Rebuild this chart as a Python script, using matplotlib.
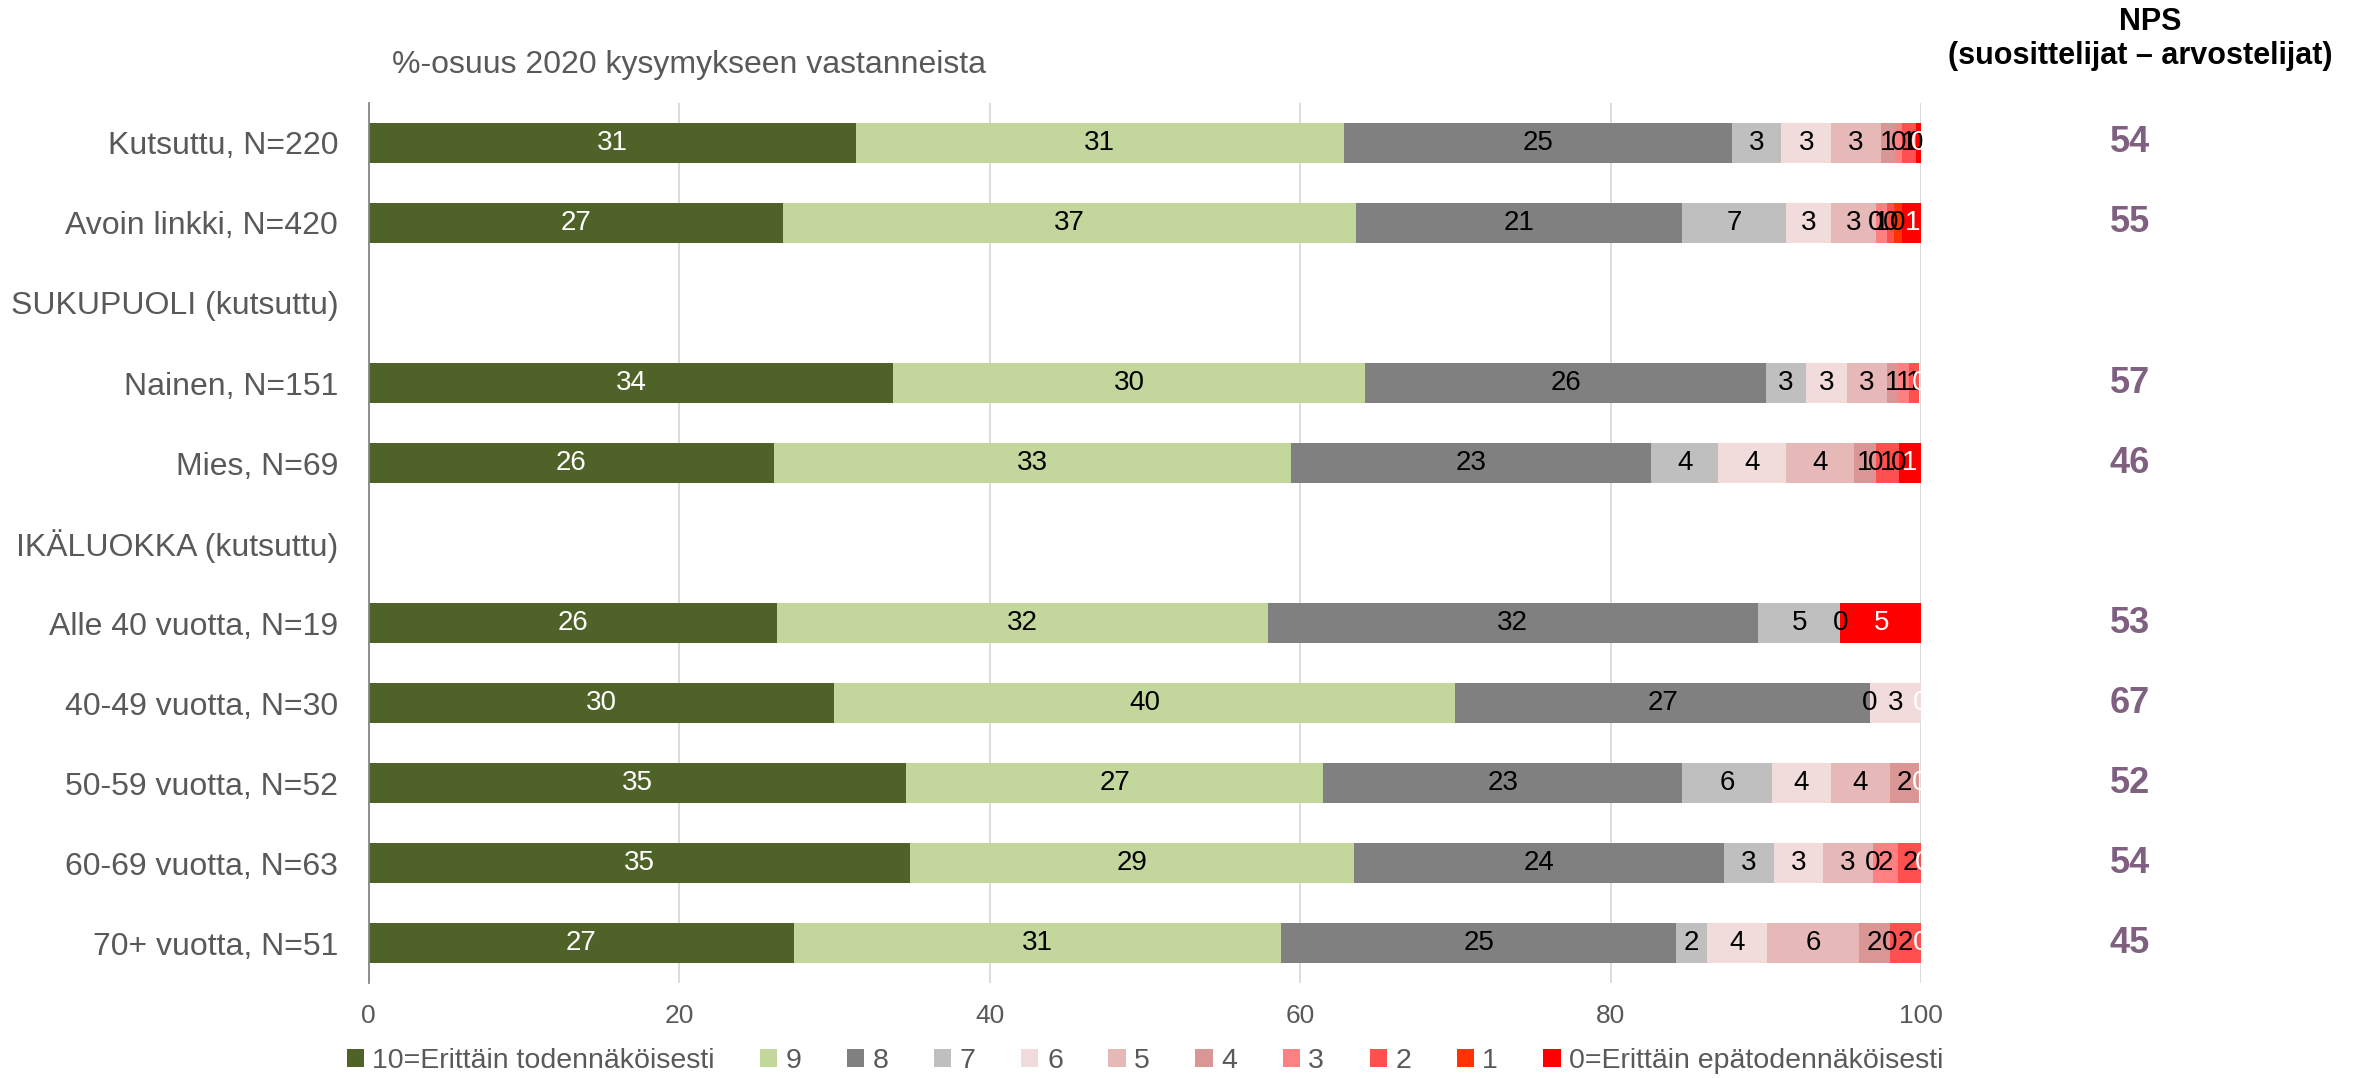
import numpy as np
import matplotlib

matplotlib.use("Agg")
import matplotlib.pyplot as plt
from matplotlib.patches import Patch

plt.rcParams["font.family"] = ["Liberation Sans", "DejaVu Sans"]

nan = np.nan

# ---- data (percent of respondents) -----------------------------------------
rows = ["Kutsuttu, N=220", "Avoin linkki, N=420", "SUKUPUOLI (kutsuttu)",
        "Nainen, N=151", "Mies, N=69", "IKÄLUOKKA (kutsuttu)",
        "Alle 40 vuotta, N=19", "40-49 vuotta, N=30", "50-59 vuotta, N=52",
        "60-69 vuotta, N=63", "70+ vuotta, N=51"]

score_names = ["10=Erittäin todennäköisesti", "9", "8", "7", "6", "5", "4",
               "3", "2", "1", "0=Erittäin epätodennäköisesti"]

s10 = [31.4, 26.7, nan, 33.8, 26.1, nan, 26.3, 30.0, 34.6, 34.9, 27.4]
s9 = [31.4, 36.9, nan, 30.4, 33.3, nan, 31.6, 40.0, 26.9, 28.6, 31.4]
s8 = [25.0, 21.0, nan, 25.8, 23.2, nan, 31.6, 26.7, 23.1, 23.8, 25.4]
s7 = [3.2, 6.7, nan, 2.6, 4.35, nan, 5.3, 0.0, 5.8, 3.2, 2.0]
s6 = [3.2, 2.9, nan, 2.6, 4.35, nan, 0.0, 3.3, 3.8, 3.2, 3.9]
s5 = [3.2, 2.9, nan, 2.6, 4.35, nan, nan, nan, 3.8, 3.2, 5.9]
s4 = [0.9, 0.0, nan, 0.7, 1.45, nan, nan, nan, 1.9, 0.0, 2.0]
s3 = [0.45, 0.7, nan, 0.7, 0.0, nan, nan, nan, nan, 1.6, 0.0]
s2 = [0.9, 0.48, nan, 0.7, 1.45, nan, nan, nan, nan, 1.6, 2.0]
s1 = [0.0, 0.48, nan, nan, 0.0, nan, nan, nan, nan, nan, nan]
s0 = [0.45, 1.4, nan, 0.0, 1.45, nan, 5.3, 0.0, 0.0, 0.0, 0.0]

nps = [54, 55, nan, 57, 46, nan, 53, 67, 52, 54, 45]

series = [s10, s9, s8, s7, s6, s5, s4, s3, s2, s1, s0]
colors = ["#4f6228", "#c3d69b", "#808080", "#bfbfbf", "#f2dcdb", "#e6b9b8",
          "#d99694", "#ff8080", "#ff5050", "#ff3300", "#ff0000"]
label_colors = ["white"] + ["black"] * 9 + ["white"]

GRAY = "#595959"

fig = plt.figure(figsize=(23.79, 10.78), dpi=100)
ax = fig.add_axes([0.155, 0.088, 0.6525, 0.8165])

y = np.arange(len(rows))
left = np.zeros(len(rows))
for vals, col, tcol in zip(series, colors, label_colors):
    v = np.array(vals, dtype=float)
    w = np.nan_to_num(v)
    ax.barh(y, w, left=left, height=0.5, color=col, zorder=2)
    for yi, (vi, li) in enumerate(zip(v, left)):
        if not np.isnan(vi):
            ax.text(li + vi / 2, yi, f"{vi:.0f}", ha="center", va="center",
                    fontsize=20, color=tcol, zorder=3)
    left = left + w

ax.set_xlim(0, 100)
ax.set_ylim(len(rows) - 0.5, -0.5)
ax.set_yticks(y)
ax.set_yticklabels(rows, fontsize=23, color=GRAY)
ax.set_xticks(range(0, 101, 20))
ax.tick_params(axis="x", length=0, pad=15, labelsize=19, labelcolor=GRAY)
ax.tick_params(axis="y", length=0, pad=22)
ax.grid(axis="x", color="#d9d9d9", linewidth=1.3, zorder=0)
for s in ("top", "right", "bottom"):
    ax.spines[s].set_visible(False)
ax.spines["left"].set_color("#868686")
ax.spines["left"].set_linewidth(1.3)

# NPS column
for yi, val in enumerate(nps):
    if not np.isnan(val):
        ax.text(1.1345, yi, f"{val:.0f}", transform=ax.get_yaxis_transform(),
                ha="center", va="center", fontsize=26, fontweight="bold",
                color="#806080")
fig.text(2150 / 2379, 1 - 22 / 1078, "NPS", ha="center", va="center",
         fontsize=22, fontweight="bold", color="black")
fig.text(2140 / 2379, 1 - 56 / 1078, "(suosittelijat – arvostelijat)",
         ha="center", va="center", fontsize=22, fontweight="bold", color="black")

fig.text(689 / 2379, 1 - 65 / 1078, "%-osuus 2020 kysymykseen vastanneista",
         ha="center", va="center", fontsize=23, color=GRAY)

handles = [Patch(facecolor=c, edgecolor="none") for c in colors]
fig.legend(handles, score_names, loc="center", ncol=11,
           bbox_to_anchor=(1145 / 2379, 1 - 1061 / 1078), frameon=False,
           fontsize=20.5, handlelength=0.6, handleheight=0.6, handletextpad=0.3,
           columnspacing=1.6, labelcolor=GRAY)

fig.savefig("out.png", dpi=100, facecolor="white")
